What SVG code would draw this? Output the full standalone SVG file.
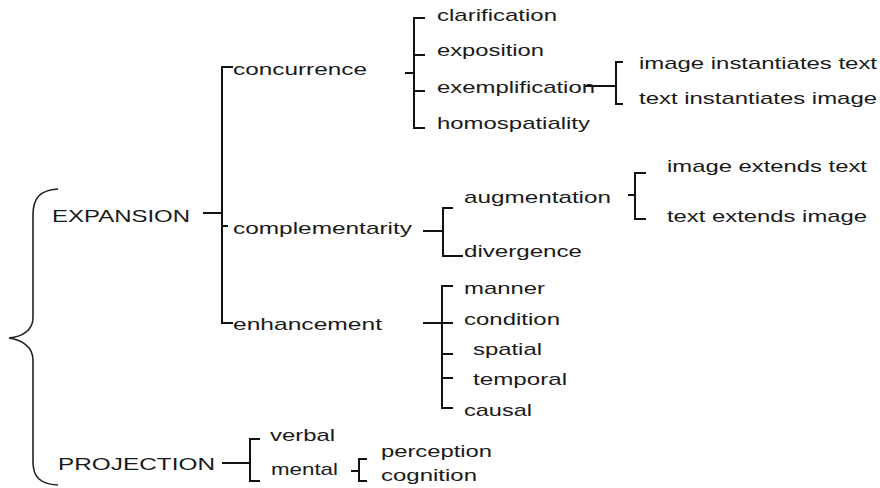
<svg xmlns="http://www.w3.org/2000/svg" width="880" height="488" viewBox="0 0 880 488">
<style>
text{font-family:"Liberation Sans",Arial,sans-serif;font-size:17px;fill:#1a1a1a;}
.c path{fill:none;stroke:#111;stroke-width:2;}
.brace{fill:none;stroke:#222;stroke-width:1.6;}
</style>
<rect width="880" height="488" fill="#fff"/>
<g id="brace"><path class="brace" d="M58,189 C40,190 33,198 33,215 L33,318 C33,330 22,337 9,338 C22,340 33,347 33,360 L33,462 C33,477 40,484 58,485"/></g>
<g class="c" id="connectors">
<path d="M233,67 H222 V323 H233"/>
<path d="M203,213 H222"/>
<path d="M222,226 H228"/>
<path d="M425,18 H414 V128 H425"/>
<path d="M414,55 H425 M414,91 H425 M405,73 H414"/>
<path d="M584,86 H616"/>
<path d="M623,62 H616 V104 H623"/>
<path d="M423,231 H443"/>
<path d="M453,208 H443 V256 H463"/>
<path d="M628,195 H635"/>
<path d="M646,173 H635 V219 H646"/>
<path d="M423,323 H453"/>
<path d="M453,286 H442 V408 H453"/>
<path d="M442,354 H453 M442,378 H453"/>
<path d="M222,463 H250"/>
<path d="M260,439 H250 V481 H260"/>
<path d="M351,471 H359"/>
<path d="M367,459 H359 V481 H367"/>
</g>
<g id="expansion"><text x="52" y="222" textLength="138" lengthAdjust="spacingAndGlyphs">EXPANSION</text></g>
<g id="projection"><text x="58" y="470" textLength="157" lengthAdjust="spacingAndGlyphs">PROJECTION</text></g>
<g id="concurrence"><text x="233" y="75" textLength="134" lengthAdjust="spacingAndGlyphs">concurrence</text></g>
<g id="complementarity"><text x="233" y="234" textLength="179" lengthAdjust="spacingAndGlyphs">complementarity</text></g>
<g id="enhancement"><text x="233" y="330" textLength="149" lengthAdjust="spacingAndGlyphs">enhancement</text></g>
<g id="clarification"><text x="437" y="21" textLength="120" lengthAdjust="spacingAndGlyphs">clarification</text></g>
<g id="exposition"><text x="437" y="56" textLength="107" lengthAdjust="spacingAndGlyphs">exposition</text></g>
<g id="exemplification"><text x="437" y="93" textLength="158" lengthAdjust="spacingAndGlyphs">exemplification</text></g>
<g id="homospatiality"><text x="437" y="129" textLength="153" lengthAdjust="spacingAndGlyphs">homospatiality</text></g>
<g id="image-instantiates-text"><text x="639" y="69" textLength="238" lengthAdjust="spacingAndGlyphs">image instantiates text</text></g>
<g id="text-instantiates-image"><text x="639" y="104" textLength="238" lengthAdjust="spacingAndGlyphs">text instantiates image</text></g>
<g id="augmentation"><text x="464" y="203" textLength="147" lengthAdjust="spacingAndGlyphs">augmentation</text></g>
<g id="divergence"><text x="464" y="257" textLength="118" lengthAdjust="spacingAndGlyphs">divergence</text></g>
<g id="image-extends-text"><text x="667" y="172" textLength="200" lengthAdjust="spacingAndGlyphs">image extends text</text></g>
<g id="text-extends-image"><text x="667" y="222" textLength="200" lengthAdjust="spacingAndGlyphs">text extends image</text></g>
<g id="manner"><text x="464" y="294" textLength="81" lengthAdjust="spacingAndGlyphs">manner</text></g>
<g id="condition"><text x="464" y="325" textLength="96" lengthAdjust="spacingAndGlyphs">condition</text></g>
<g id="spatial"><text x="473" y="355" textLength="69" lengthAdjust="spacingAndGlyphs">spatial</text></g>
<g id="temporal"><text x="473" y="385" textLength="94" lengthAdjust="spacingAndGlyphs">temporal</text></g>
<g id="causal"><text x="464" y="416" textLength="68" lengthAdjust="spacingAndGlyphs">causal</text></g>
<g id="verbal"><text x="270" y="441" textLength="65" lengthAdjust="spacingAndGlyphs">verbal</text></g>
<g id="mental"><text x="271" y="475" textLength="67" lengthAdjust="spacingAndGlyphs">mental</text></g>
<g id="perception"><text x="381" y="457" textLength="111" lengthAdjust="spacingAndGlyphs">perception</text></g>
<g id="cognition"><text x="381" y="481" textLength="96" lengthAdjust="spacingAndGlyphs">cognition</text></g>
</svg>
